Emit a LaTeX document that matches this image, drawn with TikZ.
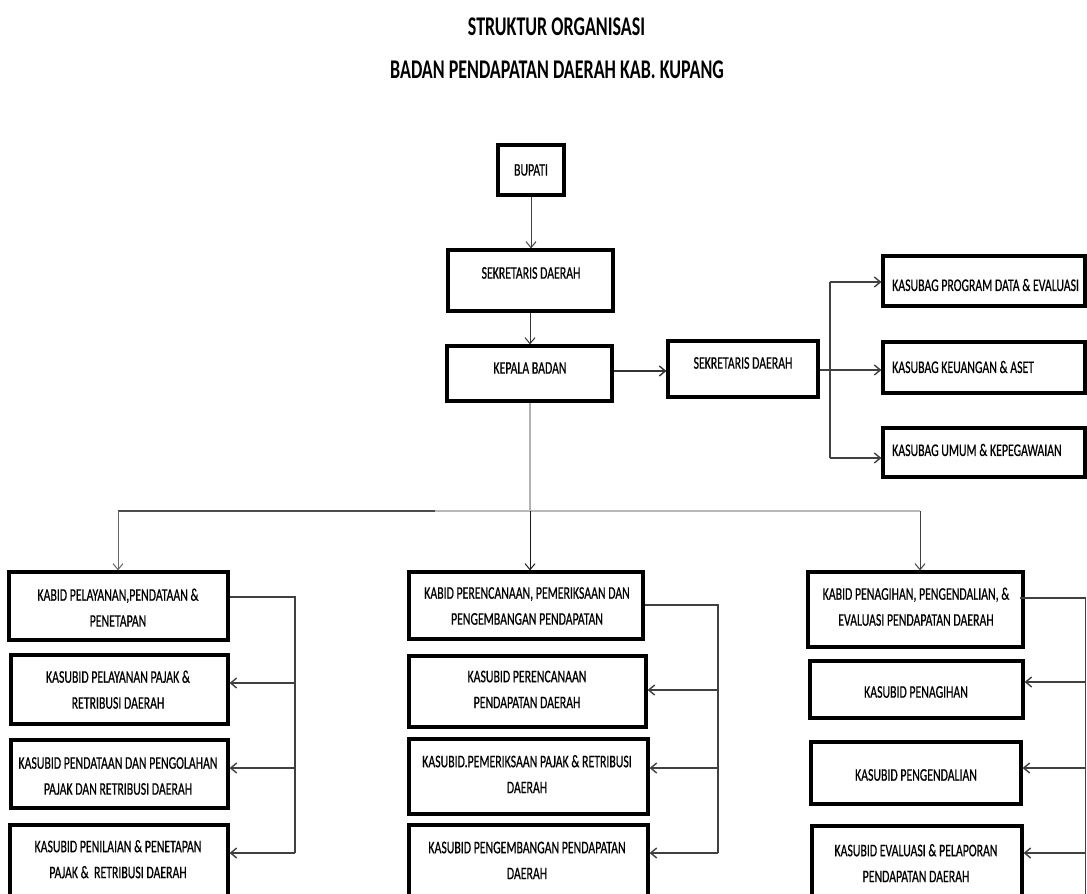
\documentclass[tikz,border=0pt]{standalone}
\usepackage{fontspec}
\setmainfont{Carlito}
\newfontfamily\boxfont{Carlito}[FakeBold=0.7]
\usepackage{graphicx}
\usetikzlibrary{arrows.meta}
\newcommand\vt[1]{\scalebox{1}[1.5]{\boxfont\fontsize{11.8}{17.3}\selectfont\begin{tabular}{@{}c@{}}#1\end{tabular}}}
\newcommand\vtl[1]{\scalebox{1}[1.5]{\boxfont\fontsize{11.8}{17.3}\selectfont #1}}
\newcommand\vtt[1]{\scalebox{1}[1.5]{\fontsize{18}{20}\selectfont\bfseries #1}}
\newcommand\bx[5]{\node[box,minimum width={#4-#2},minimum height={#5-#3}] (#1) at ({(#2+#4)/2},{(#3+#5)/2}) {};}
\begin{document}
\begin{tikzpicture}[x=1pt,y=-1pt,
  box/.style={draw=black,line width=3.2pt,inner sep=0pt,fill=white},
  txt/.style={inner sep=0pt,text=black},
  arr/.style={-{Straight Barb[length=6pt,width=10pt]},line width=1pt},
  conn/.style={line width=1.3pt,draw=black!75}]
\useasboundingbox (0,0) rectangle (1087,894);
% title
\node[txt] (t1) at (556.5,26.5) {\vtt{STRUKTUR ORGANISASI}};
\node[txt] (t2) at (557,70) {\vtt{BADAN PENDAPATAN DAERAH KAB. KUPANG}};
% boxes
\bx{bupati}{498}{145}{564}{195}
\bx{sek}{448}{250}{613}{311}
\bx{kep}{447}{346}{612}{401}
\bx{sek2}{668}{341}{818}{397}
\bx{kp}{883}{256}{1085}{306}
\bx{kk}{883}{342}{1085}{393}
\bx{ku}{883}{428}{1085}{477}
\bx{ka}{9}{572}{228}{640}
\bx{ka1}{11}{655}{228}{724}
\bx{ka2}{11}{740}{228}{808}
\bx{ka3}{10}{825}{228}{910}
\bx{kb}{409}{572}{643}{639}
\bx{kb1}{409}{656}{646}{727}
\bx{kb2}{409}{739}{648}{814}
\bx{kb3}{409}{825}{648}{910}
\bx{kc}{808}{572}{1023}{647}
\bx{kc1}{810}{661}{1023}{718}
\bx{kc2}{811}{742}{1021}{804}
\bx{kc3}{812}{826}{1022}{910}
% texts
\node[txt] (tbupati) at (531,170) {\vtl{BUPATI}};
\node[txt] (tsek) at (531,273) {\vtl{SEKRETARIS DAERAH}};
\node[txt] (tkep) at (530,368) {\vtl{KEPALA BADAN}};
\node[txt] (tsek2) at (743,363) {\vtl{SEKRETARIS DAERAH}};
\node[txt,anchor=west] (tkp) at (892,285) {\vtl{KASUBAG PROGRAM DATA \& EVALUASI}};
\node[txt,anchor=west] (tkk) at (892,367) {\vtl{KASUBAG KEUANGAN \& ASET}};
\node[txt,anchor=west] (tku) at (892,450) {\vtl{KASUBAG UMUM \& KEPEGAWAIAN}};
\node[txt] (tka) at (118,608.5) {\vt{KABID PELAYANAN,PENDATAAN \&\\PENETAPAN}};
\node[txt] (tka1) at (118,690.5) {\vt{KASUBID PELAYANAN PAJAK \&\\RETRIBUSI DAERAH}};
\node[txt] (tka2) at (118,776.5) {\vt{KASUBID PENDATAAN DAN PENGOLAHAN\\PAJAK DAN RETRIBUSI DAERAH}};
\node[txt] (tka3) at (118,860) {\vt{KASUBID PENILAIAN \& PENETAPAN\\PAJAK \&\ \ RETRIBUSI DAERAH}};
\node[txt] (tkb) at (527,606.5) {\vt{KABID PERENCANAAN, PEMERIKSAAN DAN\\PENGEMBANGAN PENDAPATAN}};
\node[txt] (tkb1) at (527,690) {\vt{KASUBID PERENCANAAN\\PENDAPATAN DAERAH}};
\node[txt] (tkb2) at (527,775) {\vt{KASUBID.PEMERIKSAAN PAJAK \& RETRIBUSI\\DAERAH}};
\node[txt] (tkb3) at (527,861) {\vt{KASUBID PENGEMBANGAN PENDAPATAN\\DAERAH}};
\node[txt] (tkc) at (916,607.5) {\vt{KABID PENAGIHAN, PENGENDALIAN, \&\\EVALUASI PENDAPATAN DAERAH}};
\node[txt] (tkc1) at (916,692) {\vtl{KASUBID PENAGIHAN}};
\node[txt] (tkc2) at (916,775) {\vtl{KASUBID PENGENDALIAN}};
\node[txt] (tkc3) at (916,864) {\vt{KASUBID EVALUASI \& PELAPORAN\\PENDAPATAN DAERAH}};
% coordinates
\coordinate (busl) at (118,511);
\coordinate (busc) at (530,511);
\coordinate (busm) at (435,511);
\coordinate (busr) at (920,511);
\coordinate (sa) at (830,282);
\coordinate (sb) at (830,370);
\coordinate (sc) at (830,458);
\coordinate (a0) at (295,597);
\coordinate (a1) at (295,683);
\coordinate (a2) at (295,768);
\coordinate (a3) at (295,853);
\coordinate (b0) at (718,605);
\coordinate (b1) at (718,690);
\coordinate (b2) at (718,768);
\coordinate (b3) at (718,853);
\coordinate (c0) at (1085.5,598);
\coordinate (c1) at (1085.5,682);
\coordinate (c2) at (1085.5,768);
\coordinate (c3) at (1085.5,853);
% top connectors
\draw[arr,draw=black!75] (bupati.south -| 531,0) -- (sek.north -| 531,0);
\draw[arr,draw=black!80] (sek.south -| 530,0) -- (kep.north -| 530,0);
\draw[arr,draw=black!80,line width=1.4pt] (kep.east |- 0,371) -- (sek2.west |- 0,371);
\draw[conn] (sek2.east |- sb) -- (sb);
\draw[conn] (sa) -- (sc);
\draw[arr,draw=black!75,line width=1.4pt] (sa) -- (sa -| kp.west);
\draw[arr,draw=black!75,line width=1.4pt] (sb) -- (sb -| kk.west);
\draw[arr,draw=black!75,line width=1.4pt] (sc) -- (sc -| ku.west);
% bus
\draw[gray!60,line width=1.2pt] (kep.south -| busc) -- (busc);
\draw[black!70,line width=1.8pt] (busl) -- (busm);
\draw[gray!55,line width=1.8pt] (busm) -- (busr);
\draw[arr,draw=black!60] (busl) -- (busl |- ka.north);
\draw[arr,draw=black!90] (busc) -- (busc |- kb.north);
\draw[arr,draw=black!75] (busr) -- (busr |- kc.north);
% column brackets
\draw[conn] (ka.east |- a0) -- (a0) -- (a3);
\draw[arr,draw=black!75,line width=1.4pt] (a1) -- (a1 -| ka1.east);
\draw[arr,draw=black!75,line width=1.4pt] (a2) -- (a2 -| ka2.east);
\draw[arr,draw=black!75,line width=1.4pt] (a3) -- (a3 -| ka3.east);
\draw[conn] (kb.east |- b0) -- (b0) -- (b3);
\draw[arr,draw=black!75,line width=1.4pt] (b1) -- (b1 -| kb1.east);
\draw[arr,draw=black!75,line width=1.4pt] (b2) -- (b2 -| kb2.east);
\draw[arr,draw=black!75,line width=1.4pt] (b3) -- (b3 -| kb3.east);
\draw[conn] (1020,598) -- (c0) -- (1085.5,894);
\draw[arr,draw=black!75,line width=1.4pt] (c1) -- (c1 -| kc1.east);
\draw[arr,draw=black!75,line width=1.4pt] (c2) -- (c2 -| kc2.east);
\draw[arr,draw=black!75,line width=1.4pt] (c3) -- (c3 -| kc3.east);
\end{tikzpicture}
\end{document}
